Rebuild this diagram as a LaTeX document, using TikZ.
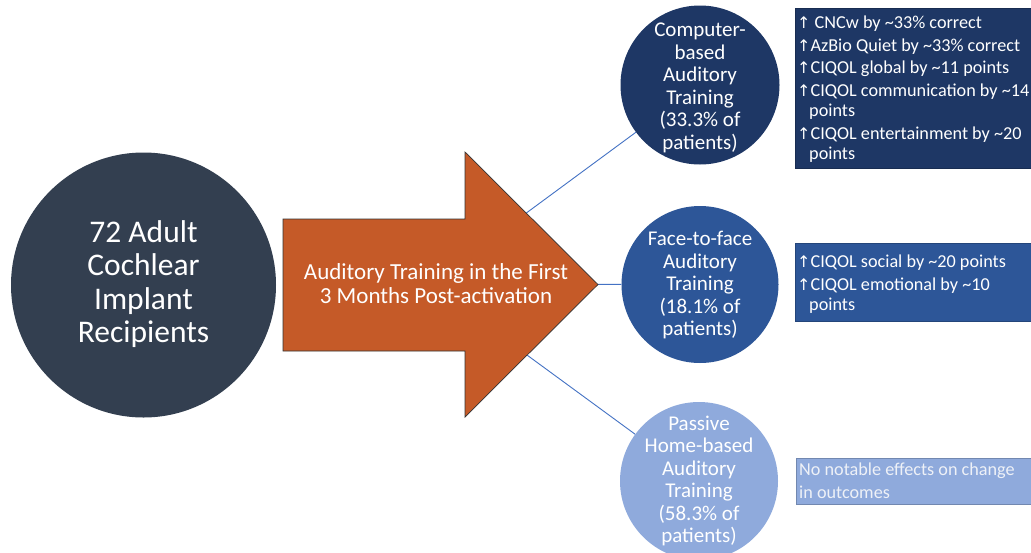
\documentclass[tikz,border=0pt]{standalone}
\usepackage{fontspec}
\setmainfont{Carlito}
\newfontfamily\symfont{DejaVu Sans}
\definecolor{slate}{HTML}{333F50}
\definecolor{navy}{HTML}{1E3765}
\definecolor{midblue}{HTML}{2D5698}
\definecolor{paleblue}{HTML}{8FAADC}
\definecolor{rust}{HTML}{C55A28}
\definecolor{linkblue}{HTML}{4472C4}
\definecolor{paletext}{HTML}{EEF1F7}
\newcommand{\up}{{\symfont\fontsize{16}{20}\selectfont ↑}}
\begin{document}
\begin{tikzpicture}[x=1pt,y=-1pt,
  bubble/.style={circle,draw=none,inner sep=0pt},
  bubbletext/.style={text=white,align=center,font=\fontsize{21}{22.5}\selectfont},
  linkline/.style={draw=linkblue,line width=0.9pt},
  resultbox/.style={draw=#1!80!black,fill=#1,line width=0.8pt},
  resulttext/.style={anchor=north west,inner sep=0pt,align=left,
    font=\fontsize{18.2}{20.5}\selectfont}]
\clip (0,0) rectangle (1031,552);
\fill[white] (0,0) rectangle (1031,552);

% source group
\node[bubble,fill=slate,minimum size=265pt] (cohort) at (143.5,285) {};
\node[text=white,align=center,font=\fontsize{31.5}{33.5}\selectfont]
  (cohortlabel) at (143.5,284) {72 Adult\\Cochlear\\Implant\\Recipients};

% training groups
\node[bubble,fill=navy,minimum size=159pt] (computer) at (700,85) {};
\node[bubble,fill=midblue,minimum size=157pt] (face) at (700,284.5) {};
\node[bubble,fill=paleblue,minimum size=158pt] (passive) at (699,481) {};

\node[bubbletext] (computerlabel) at (700,88)
  {Computer-\\based\\Auditory\\Training\\(33.3\% of\\patients)};
\node[bubbletext] (facelabel) at (700,285)
  {Face-to-face\\Auditory\\Training\\(18.1\% of\\patients)};
\node[bubbletext] (passivelabel) at (699,481)
  {Passive\\Home-based\\Auditory\\Training\\(58.3\% of\\patients)};

% connectors from behind the arrow to each group
\coordinate (hub) at (430,284);
\draw[linkline] (hub) -- (computer);
\draw[linkline] (hub) -- (face);
\draw[linkline] (hub) -- (passive);

% block arrow
\filldraw[fill=rust,draw=black!80,line width=0.7pt]
  (283,219) -- (465,219) -- (465,152) -- (598,284.5) -- (465,417)
  -- (465,351) -- (283,351) -- cycle;
\node[text=white,align=center,font=\fontsize{23}{24}\selectfont]
  (arrowlabel) at (436,284) {Auditory Training in the First\\3 Months Post-activation};

% outcome boxes
\path[resultbox=navy] (795,8) rectangle (1040,168);
\node[resulttext,text=white] (computerresult) at (797,16)
  {\up\ CNCw by \textasciitilde33\% correct\\[2pt]
   \up AzBio Quiet by \textasciitilde33\% correct\\[2pt]
   \up CIQOL global by \textasciitilde11 points\\[2pt]
   \up CIQOL communication by \textasciitilde14\\
   \hspace*{12pt}points\\[2pt]
   \up CIQOL entertainment by \textasciitilde20\\
   \hspace*{12pt}points};

\path[resultbox=midblue] (795,243) rectangle (1040,321);
\node[resulttext,text=white] (faceresult) at (797,255)
  {\up CIQOL social by \textasciitilde20 points\\[2pt]
   \up CIQOL emotional by \textasciitilde10\\
   \hspace*{12pt}points};

\path[resultbox=paleblue] (796,458) rectangle (1040,504);
\node[resulttext,text=paletext] (passiveresult) at (799,463)
  {No notable effects on change\\[2.5pt]
   in outcomes};
\end{tikzpicture}
\end{document}
